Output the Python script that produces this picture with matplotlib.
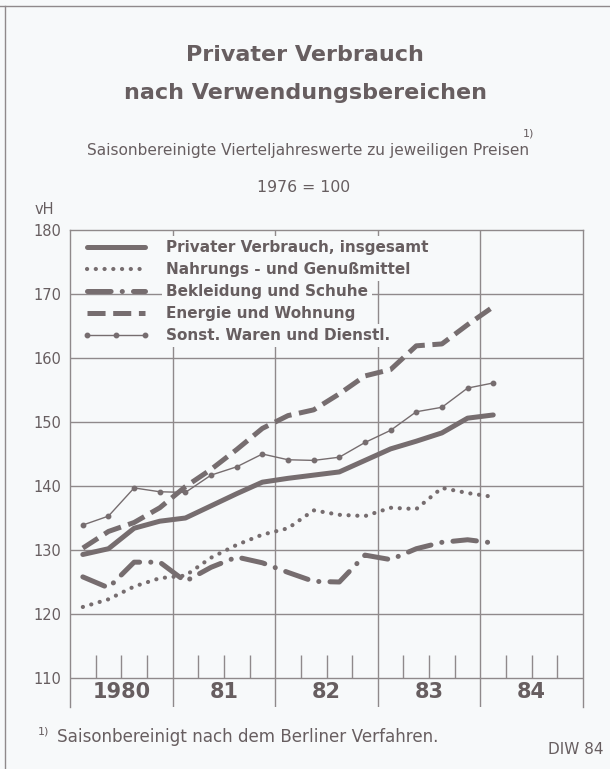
import matplotlib
matplotlib.use("Agg")
import matplotlib.pyplot as plt
from matplotlib.lines import Line2D
import numpy as np

# ---------------- data ----------------
years = [1980, 1980, 1980, 1980, 1981, 1981, 1981, 1981, 1982, 1982, 1982, 1982,
         1983, 1983, 1983, 1983, 1984]
quarters = [1, 2, 3, 4, 1, 2, 3, 4, 1, 2, 3, 4, 1, 2, 3, 4, 1]

insgesamt = [129.3, 130.2, 133.4, 134.5, 135.0, 136.9, 138.8, 140.6, 141.2, 141.7,
             142.2, 144.0, 145.8, 147.0, 148.3, 150.6, 151.1]
nahrung = [121.1, 122.3, 124.3, 125.6, 126.0, 128.8, 130.8, 132.4, 133.4, 136.2,
           135.5, 135.3, 136.6, 136.4, 139.7, 138.9, 138.3]
bekleidung = [125.8, 124.1, 128.1, 128.1, 125.1, 127.3, 128.9, 128.0, 126.5, 125.1,
              125.0, 129.2, 128.5, 130.2, 131.2, 131.6, 131.1]
energie = [130.3, 132.9, 134.3, 136.6, 139.9, 142.6, 145.7, 149.0, 151.0, 151.9,
           154.4, 157.2, 158.2, 161.9, 162.2, 165.2, 168.0]
sonstige = [133.9, 135.3, 139.7, 139.1, 139.0, 141.7, 143.0, 145.0, 144.1, 144.0,
            144.5, 146.8, 148.7, 151.6, 152.3, 155.3, 156.1]

series_labels = ["Privater Verbrauch, insgesamt",
                 "Nahrungs - und Genußmittel",
                 "Bekleidung und Schuhe",
                 "Energie und Wohnung",
                 "Sonst. Waren und Dienstl."]

year_labels = ["1980", "81", "82", "83", "84"]
year_starts = [1980, 1981, 1982, 1983, 1984]
yticks = [110, 120, 130, 140, 150, 160, 170, 180]

title1 = "Privater Verbrauch"
title2 = "nach Verwendungsbereichen"
subtitle = "Saisonbereinigte Vierteljahreswerte zu jeweiligen Preisen"
basis = "1976 = 100"
footnote = "Saisonbereinigt nach dem Berliner Verfahren."
source = "DIW 84"

# ---------------- style ----------------
plt.rcParams["lines.scale_dashes"] = False
plt.rcParams["font.family"] = ["DejaVu Sans"]
BG = "#f7f9fa"
LC = "#766d6f"
TC = "#675e60"
GC = "#8f898b"
W, H = 610, 769

fig = plt.figure(figsize=(W / 100, H / 100), dpi=100, facecolor=BG)

def fx(x):
    return x / W

def fy(y):
    return 1 - y / H

ax = fig.add_axes([fx(70), fy(707), fx(583) - fx(70), fy(230) - fy(707)])
ax.set_facecolor(BG)

x = np.array(years) + (np.array(quarters) - 0.5) / 4.0

ax.set_xlim(1980, 1985)
ax.set_ylim(105.47, 180)

# grid
for v in yticks[:-1]:
    ax.axhline(v, color=GC, lw=1.0, zorder=1)
for ys in year_starts[1:]:
    ax.axvline(ys, color=GC, lw=1.0, zorder=1)
# quarter ticks
qt = [ys + k / 4 for ys in year_starts for k in (1, 2, 3)]
ax.vlines(qt, 110, 113.6, color=GC, lw=1.0, zorder=1)

for s in ax.spines.values():
    s.set_color(GC)
    s.set_linewidth(1.0)
ax.spines["bottom"].set_visible(False)

ax.set_xticks([])
ax.set_yticks(yticks)
ax.set_yticklabels([str(v) for v in yticks])
ax.tick_params(axis="y", length=0, pad=6, labelsize=10.5, labelcolor=TC)

# year labels
for ys, lab in zip(year_starts, year_labels):
    ax.text(ys + 0.5, 107.8, lab, ha="center", va="center", fontsize=15,
            fontweight="bold", color=TC)

# series
l1, = ax.plot(x, insgesamt, color=LC, lw=3.6, solid_capstyle="round",
              solid_joinstyle="round", zorder=3)
l2, = ax.plot(x, nahrung, color=LC, lw=3.0, dash_capstyle="round",
              linestyle=(0, (0.1, 6.2)), zorder=3)
l3, = ax.plot(x, bekleidung, color=LC, lw=3.6, dash_capstyle="round",
              linestyle=(0, (17, 8, 0.1, 8)), zorder=3)
l4, = ax.plot(x, energie, color=LC, lw=3.6, dash_capstyle="butt",
              linestyle=(0, (13, 5.5)), zorder=3)
l5, = ax.plot(x, sonstige, color=LC, lw=1.0, marker="o", markersize=3.2,
              zorder=3)

leg = ax.legend([l1, l2, l3, l4, l5], series_labels, loc="upper left",
                bbox_to_anchor=(-0.003, 1.008), frameon=False, numpoints=3,
                handlelength=4.4, handletextpad=1.1, labelspacing=0.465,
                prop={"weight": "bold", "size": 11})
for t in leg.get_texts():
    t.set_color(TC)
    t.set_bbox(dict(facecolor=BG, edgecolor="none", pad=3))
leg.set_zorder(6)

# titles and texts
fig.text(0.5, fy(55), title1, ha="center", va="center", fontsize=16,
         fontweight="bold", color=TC)
fig.text(0.5, fy(93), title2, ha="center", va="center", fontsize=16,
         fontweight="bold", color=TC)
fig.text(fx(308), fy(150), subtitle, ha="center", va="center", fontsize=11.1,
         color=TC)
fig.text(fx(529), fy(134), "1)", ha="center", va="center", fontsize=8,
         color=TC)
fig.text(fx(304), fy(187), basis, ha="center", va="center", fontsize=11.3,
         color=TC)
fig.text(fx(35), fy(209), "vH", ha="left", va="center", fontsize=10.5,
         color=TC)
fig.text(fx(38), fy(731), "1)", ha="left", va="center", fontsize=8,
         color=TC)
fig.text(fx(57), fy(737), footnote, ha="left", va="center", fontsize=12.1,
         color=TC)
fig.text(fx(603), fy(750), source, ha="right", va="center", fontsize=11,
         color=TC)

# outer frame lines (top and left)
fig.add_artist(Line2D([0, 1], [fy(6), fy(6)], transform=fig.transFigure,
                      color=GC, lw=1.0))
fig.add_artist(Line2D([fx(5), fx(5)], [fy(6), 0], transform=fig.transFigure,
                      color=GC, lw=1.0))

fig.savefig("out.png", dpi=100, facecolor=BG)
